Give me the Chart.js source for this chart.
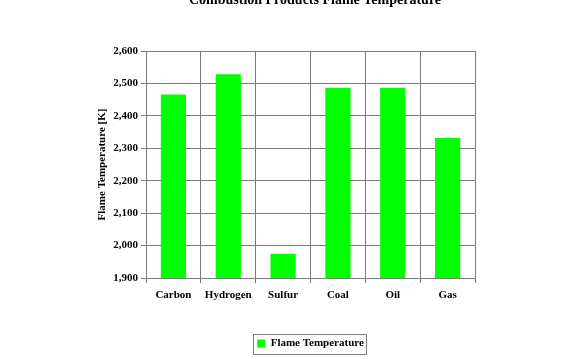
<!DOCTYPE html>
<html>
<head>
<meta charset="utf-8">
<script src="https://cdn.jsdelivr.net/npm/chart.js@4/dist/chart.umd.min.js"></script>
<style>
  html, body { margin: 0; padding: 0; background: #fff; }
  #wrap { position: relative; width: 580px; height: 359px; }
</style>
</head>
<body>
<div id="wrap"><canvas id="flameChart" width="580" height="359"></canvas></div>
<script>
// data
const categories = ['Carbon', 'Hydrogen', 'Sulfur', 'Coal', 'Oil', 'Gas'];
const flameTemps = [2466, 2528, 1975, 2487, 2487, 2332];
const yTicks = [1900, 2000, 2100, 2200, 2300, 2400, 2500, 2600];
const seriesName = 'Flame Temperature';
const chartTitle = 'Combustion Products Flame Temperature';

const serif = '"Liberation Serif", "Times New Roman", serif';

// title sits partly above the canvas, so draw it by hand
const topTitle = {
    id: 'topTitle',
    afterDraw(chart) {
        const ctx = chart.ctx;
        ctx.save();
        ctx.font = 'bold 14px ' + serif;
        ctx.fillStyle = '#000';
        ctx.textAlign = 'center';
        ctx.textBaseline = 'alphabetic';
        ctx.fillText(chartTitle, 315, 4);
        ctx.restore();
    }
};

// frame round the legend
const legendFrame = {
    id: 'legendFrame',
    afterDraw(chart) {
        const hb = chart.legend && chart.legend.legendHitBoxes && chart.legend.legendHitBoxes[0];
        if (!hb) return;
        const ctx = chart.ctx;
        const cy = hb.top + hb.height / 2;
        ctx.save();
        ctx.strokeStyle = '#808080';
        ctx.lineWidth = 1;
        ctx.strokeRect(Math.round(hb.left - 4) + 0.5, Math.round(cy - 10) + 0.5, Math.round(hb.width + 6), 20);
        ctx.restore();
    }
};

new Chart(document.getElementById('flameChart'), {
    type: 'bar',
    data: {
        labels: categories,
        datasets: [{
            label: seriesName,
            data: flameTemps,
            backgroundColor: '#00ff00',
            borderWidth: 0,
            barPercentage: 0.46,
            categoryPercentage: 1
        }]
    },
    options: {
        responsive: false,
        animation: false,
        devicePixelRatio: 1,
        layout: {
            padding: { left: 90, right: 105, top: 51, bottom: 0 }
        },
        plugins: {
            title: { display: false },
            tooltip: { enabled: false },
            legend: {
                position: 'bottom',
                fullSize: false,
                labels: {
                    boxWidth: 8,
                    boxHeight: 8,
                    padding: 10,
                    color: '#000',
                    font: { family: serif, size: 11, weight: 'bold' }
                }
            }
        },
        scales: {
            x: {
                afterFit: function(scale) { scale.height = 50; },
                grid: {
                    offset: true,
                    color: '#7a7a7a',
                    lineWidth: 1,
                    drawTicks: true,
                    tickLength: 5
                },
                border: { color: '#7a7a7a' },
                ticks: {
                    color: '#000',
                    padding: 6,
                    maxRotation: 0,
                    font: { family: serif, size: 11, weight: 'bold' }
                }
            },
            y: {
                min: 1900,
                max: 2600,
                afterFit: function(scale) { scale.width = 56; },
                afterBuildTicks: function(scale) {
                    scale.ticks = yTicks.map(v => ({ value: v }));
                },
                grid: {
                    color: '#7a7a7a',
                    lineWidth: 1,
                    drawTicks: true,
                    tickLength: 5
                },
                border: { color: '#7a7a7a' },
                ticks: {
                    color: '#000',
                    padding: 3,
                    font: { family: serif, size: 11, weight: 'bold' },
                    callback: function(value) {
                        return value.toLocaleString('en-US');
                    }
                },
                title: {
                    display: true,
                    text: 'Flame Temperature [K]',
                    color: '#000',
                    padding: { top: 6, bottom: 0 },
                    font: { family: serif, size: 11, weight: 'bold' }
                }
            }
        }
    },
    plugins: [topTitle, legendFrame]
});
</script>
</body>
</html>
